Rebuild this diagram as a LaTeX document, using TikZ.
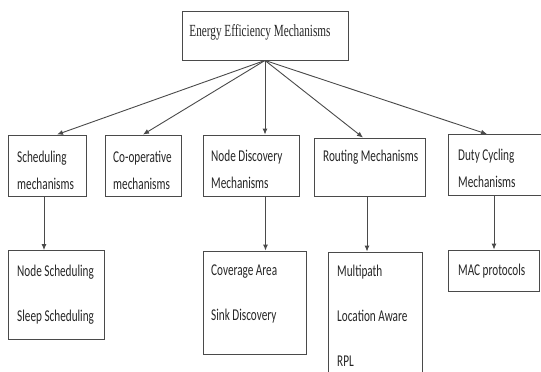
\documentclass[tikz,border=0pt]{standalone}
\usepackage{fontspec}
\usetikzlibrary{arrows.meta}
\newfontfamily\boxfont[FakeStretch=0.68]{Carlito}
\newfontfamily\topfont[FakeStretch=0.66]{Liberation Serif}
\definecolor{linec}{HTML}{4A4A4A}
\definecolor{textc}{HTML}{262626}
\begin{document}
\begin{tikzpicture}[x=1pt,y=-1pt,
  box/.style={draw=linec, line width=0.9pt, inner sep=0pt},
  lbl/.style={text=textc, inner sep=0pt, anchor=north west, align=left},
  lblA/.style={lbl, font=\boxfont\fontsize{16.5}{27}\selectfont},
  lblB/.style={lbl, font=\boxfont\fontsize{16.5}{45}\selectfont},
  conn/.style={draw=linec, line width=0.9pt, -{Latex[length=6pt,width=5pt]}}]
\useasboundingbox (0,0) rectangle (541,372);
\fill[white] (0,0) rectangle (541,372);

% boxes
\node[box, minimum width=166pt, minimum height=49pt] (top) at (265,35.5) {};
\node[box, minimum width=78pt, minimum height=61pt] (b1) at (47,165.5) {};
\node[box, minimum width=76pt, minimum height=61pt] (b2) at (143,165.5) {};
\node[box, minimum width=96pt, minimum height=61pt] (b3) at (251,165.5) {};
\node[box, minimum width=111pt, minimum height=58pt] (b4) at (369.5,167) {};
\node[box, minimum width=100pt, minimum height=60.5pt] (b5) at (498,164.75) {};
\node[box, minimum width=96.5pt, minimum height=89pt] (nA) at (56.25,295) {};
\node[box, minimum width=103pt, minimum height=103pt] (nC) at (254.5,302.5) {};
\node[box, minimum width=94pt, minimum height=140pt] (nR) at (375,322) {};
\node[box, minimum width=91pt, minimum height=41pt] (nM) at (493.5,270.5) {};

% texts
\node[text=textc, inner sep=0pt, font=\topfont\fontsize{17}{20}\selectfont] (ttop) at (260,32) {Energy Efficiency Mechanisms};
\node[lblA] (t1) at (17,150.5) {Scheduling\\mechanisms};
\node[lblA] (t2) at (113,150.5) {Co-operative\\mechanisms};
\node[lblA] (t3) at (211,149.5) {Node Discovery\\Mechanisms};
\node[lblA] (t4) at (323,149.5) {Routing Mechanisms};
\node[lblA] (t5) at (458,148.5) {Duty Cycling\\Mechanisms};
\node[lblB] (tA) at (17,265) {Node Scheduling\\Sleep Scheduling};
\node[lblB] (tC) at (211,265) {Coverage Area\\Sink Discovery};
\node[lblB] (tR) at (337,265) {Multipath\\Location Aware\\RPL};
\node[lblA] (tM) at (458,264) {MAC protocols};

% connectors
\draw[conn] (top.south) -- (b1.north -| 57,0);
\draw[conn] (top.south) -- (b2.north -| 143,0);
\draw[conn] (top.south) -- (b3.north -| 265,0);
\draw[conn] (top.south) -- (b4.north -| 363,0);
\draw[conn] (top.south) -- (b5.north -| 487,0);
\draw[conn] (b1.south -| 44,0) -- (nA.north -| 44,0);
\draw[conn] (b3.south -| 265.5,0) -- (nC.north -| 265.5,0);
\draw[conn] (b4.south -| 367,0) -- (nR.north -| 367,0);
\draw[conn] (b5.south -| 494,0) -- (nM.north -| 494,0);
\end{tikzpicture}
\end{document}
